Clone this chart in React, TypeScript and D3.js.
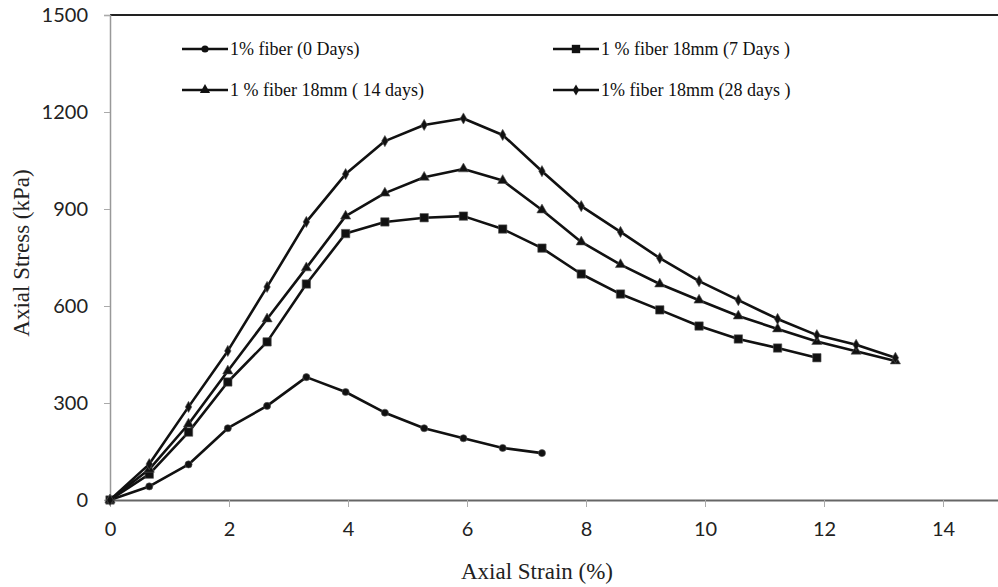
import React, { useRef, useEffect } from "react";
import * as d3 from "d3";

// axial strain (%) readings, same steps for every test
const strain = [0, 0.66, 1.32, 1.98, 2.64, 3.3, 3.96, 4.62, 5.28, 5.94, 6.6, 7.26, 7.92, 8.58, 9.24, 9.9, 10.56, 11.22, 11.88, 12.54, 13.2];

const stress0d = [0, 42, 110, 222, 291, 380, 334, 270, 222, 191, 161, 145];
const stress7d = [0, 80, 210, 365, 489, 668, 824, 860, 873, 878, 838, 779, 699, 637, 588, 538, 498, 470, 440];
const stress14d = [0, 95, 235, 399, 560, 718, 878, 949, 998, 1024, 988, 897, 798, 728, 668, 618, 569, 529, 490, 460, 430];
const stress28d = [0, 111, 288, 461, 659, 860, 1008, 1110, 1160, 1180, 1129, 1017, 909, 829, 748, 677, 618, 560, 510, 480, 440];

const seriesNames = ["1% fiber (0 Days)", "1 % fiber 18mm (7 Days )", "1 % fiber 18mm ( 14 days)", "1% fiber 18mm (28 days )"];
const yTicks = [0, 300, 600, 900, 1200, 1500];
const xTicks = [0, 2, 4, 6, 8, 10, 12, 14];

const W = 998, H = 587;

function App() {
  const ref = useRef<SVGSVGElement>(null);

  useEffect(() => {
    const svg = d3.select(ref.current);
    svg.selectAll("*").remove();

    const x = d3.scaleLinear().domain([0, 15]).range([110, 1002.5]);
    const y = d3.scaleLinear().domain([0, 1500]).range([500, 15]);

    const series = [
      { name: seriesNames[0], vals: stress0d, sym: d3.symbolCircle, size: 40 },
      { name: seriesNames[1], vals: stress7d, sym: d3.symbolSquare, size: 70 },
      { name: seriesNames[2], vals: stress14d, sym: d3.symbolTriangle, size: 45 },
      { name: seriesNames[3], vals: stress28d, sym: d3.symbolDiamond, size: 36 },
    ];

    const tickFont = "Lato, 'Open Sans', sans-serif";
    const serif = "'Liberation Serif', 'Times New Roman', serif";

    // top frame line
    svg.append("line").attr("x1", 110).attr("x2", W).attr("y1", 15).attr("y2", 15)
      .attr("stroke", "#222").attr("stroke-width", 2);

    // y axis
    const ya = svg.append("g").attr("transform", "translate(110,0)")
      .call(d3.axisLeft(y).tickValues(yTicks).tickFormat(d3.format("d")).tickSize(6).tickPadding(16));
    ya.select(".domain").attr("stroke", "#999").attr("stroke-width", 1.5);
    ya.selectAll(".tick line").attr("stroke", "#aaa");
    ya.selectAll("text").attr("font-family", tickFont).attr("font-size", 20).attr("fill", "#222");

    // x axis
    const xa = svg.append("g").attr("transform", "translate(0,500)")
      .call(d3.axisBottom(x).tickValues(xTicks).tickSize(7).tickSizeOuter(0).tickPadding(15));
    xa.select(".domain").attr("stroke", "#666").attr("stroke-width", 2);
    xa.selectAll(".tick line").attr("stroke", "#aaa");
    xa.selectAll("text").attr("font-family", tickFont).attr("font-size", 20).attr("fill", "#222");

    const ln = d3.line<number>().x((d, i) => x(strain[i])).y(d => y(d));

    series.forEach(s => {
      svg.append("path").datum(s.vals).attr("d", ln).attr("fill", "none")
        .attr("stroke", "#111").attr("stroke-width", 2.6).attr("stroke-linejoin", "round");
      svg.selectAll(null).data(s.vals).join("path")
        .attr("transform", (d, i) => `translate(${x(strain[i])},${y(d)})`)
        .attr("d", d3.symbol().type(s.sym).size(s.size)())
        .attr("fill", "#111").attr("stroke", "#555").attr("stroke-width", 0.6);
    });

    // legend
    const legPos = [[182, 49], [553, 49], [182, 90], [553, 90]];
    series.forEach((s, i) => {
      const [lx, ly] = legPos[i];
      const g = svg.append("g").attr("transform", `translate(${lx},${ly})`);
      g.append("line").attr("x1", 0).attr("x2", 46).attr("stroke", "#111").attr("stroke-width", 2.6);
      g.append("path").attr("transform", "translate(23,0)")
        .attr("d", d3.symbol().type(s.sym).size(s.size)()).attr("fill", "#111");
      g.append("text").attr("x", 48).attr("y", 6).text(s.name)
        .attr("font-family", serif).attr("font-size", 18).attr("fill", "#111");
    });

    // axis titles
    svg.append("text").attr("transform", "translate(29,253) rotate(-90)").attr("text-anchor", "middle")
      .attr("font-family", serif).attr("font-size", 23).attr("fill", "#222")
      .text("Axial Stress (kPa)");
    svg.append("text").attr("x", 537).attr("y", 579).attr("text-anchor", "middle")
      .attr("font-family", serif).attr("font-size", 23).attr("fill", "#222")
      .text("Axial Strain (%)");
  }, []);

  return (
    <svg ref={ref} width={W} height={H} style={{ position: "fixed", left: 0, top: 0, background: "#fff" }} />
  );
}

export default App;
